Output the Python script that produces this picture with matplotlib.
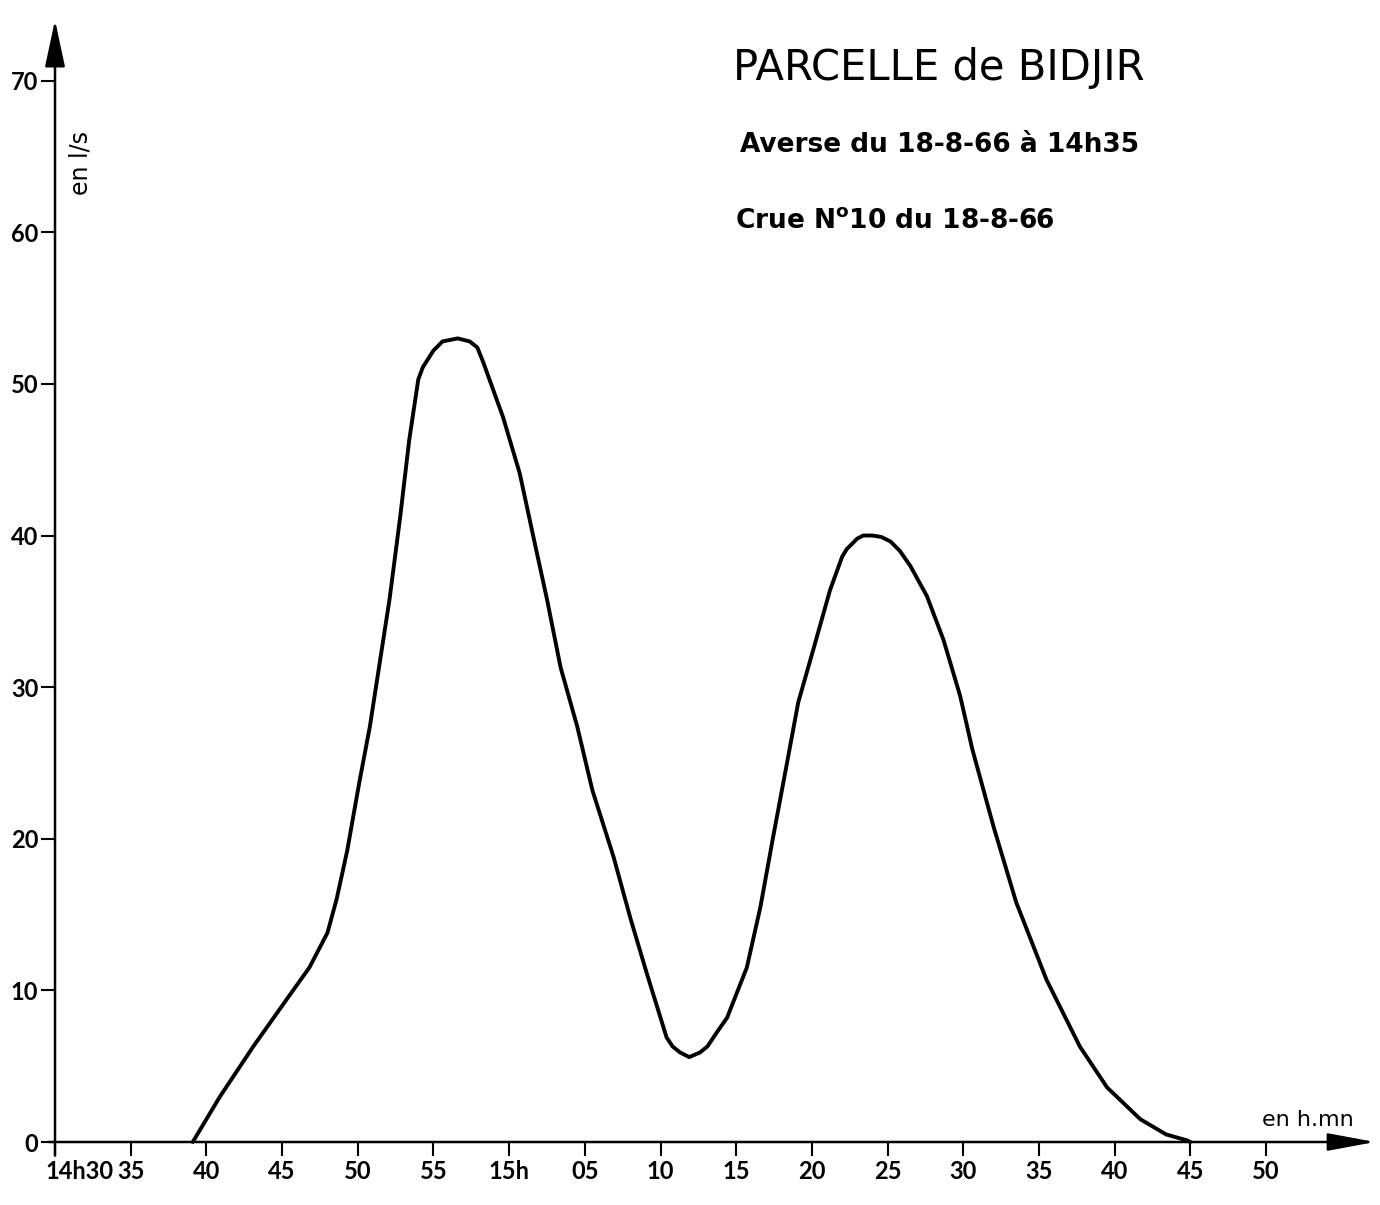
import matplotlib
matplotlib.use("Agg")
import matplotlib.pyplot as plt
from matplotlib.transforms import ScaledTranslation

plt.rcParams['font.family'] = ['Lato', 'DejaVu Sans']
plt.rcParams['mathtext.fontset'] = 'custom'
plt.rcParams['mathtext.rm'] = 'DejaVu Sans'
plt.rcParams['mathtext.bf'] = 'DejaVu Sans:bold'

minutes = [39.1, 40.9, 43.1, 45.3, 46.8, 48.0, 48.6, 49.3, 50.1, 50.8,
           52.1, 52.8, 53.4, 54.0, 54.3, 55.0, 55.6, 56.6, 57.4, 57.9,
           58.3, 59.6, 60.7, 61.8, 62.5, 63.4, 64.5, 65.5, 66.9, 68.0,
           69.1, 70.0, 70.4, 70.8, 71.3, 71.9, 72.6, 73.1, 73.7, 74.4,
           75.7, 76.6, 77.4, 78.3, 79.1, 80.1, 81.2, 82.0, 82.3, 83.0,
           83.4, 84.0, 84.6, 85.2, 85.8, 86.5, 87.6, 88.7, 89.8, 90.6,
           92.0, 93.5, 95.5, 97.7, 99.5, 101.7, 103.4, 104.8, 105.0]
debit = [0.0, 3.0, 6.3, 9.4, 11.5, 13.8, 16.0, 19.2, 23.7, 27.4,
         35.8, 41.2, 46.3, 50.3, 51.1, 52.2, 52.8, 53.0, 52.8, 52.4,
         51.4, 47.8, 44.1, 39.0, 35.8, 31.3, 27.4, 23.2, 18.8, 14.8,
         11.1, 8.2, 6.9, 6.3, 5.9, 5.6, 5.9, 6.3, 7.2, 8.2,
         11.5, 15.5, 19.9, 24.7, 29.0, 32.5, 36.4, 38.6, 39.1, 39.8,
         40.0, 40.0, 39.9, 39.6, 39.0, 38.0, 36.0, 33.1, 29.4, 25.9,
         20.8, 15.8, 10.7, 6.3, 3.6, 1.5, 0.5, 0.1, 0.0]

x_ticks = [30, 35, 40, 45, 50, 55, 60, 65, 70, 75, 80, 85, 90, 95, 100, 105, 110]
x_labels = ["14h30", "35", "40", "45", "50", "55", "15h", "05", "10",
            "15", "20", "25", "30", "35", "40", "45", "50"]
y_ticks = [0, 10, 20, 30, 40, 50, 60, 70]

fig = plt.figure(figsize=(13.8, 12.05), dpi=100)
ax = fig.add_axes([55/1380, 1 - 1142/1205, 1320/1380, 1122/1205])
ax.set_xlim(30, 117.2)
ax.set_ylim(0, 74.0)
for s in ax.spines.values():
    s.set_visible(False)

ax.plot(minutes, debit, color='black', lw=2.8,
        solid_capstyle='round', solid_joinstyle='round', clip_on=False)

# axes avec fleches
ax.annotate('', xy=(117.2, 0), xytext=(29.6, 0), annotation_clip=False,
            arrowprops=dict(arrowstyle='-|>,head_length=1.45,head_width=0.27',
                            lw=1.8, color='black', shrinkA=0, shrinkB=0,
                            mutation_scale=20))
ax.annotate('', xy=(30, 74.0), xytext=(30, -0.9), annotation_clip=False,
            arrowprops=dict(arrowstyle='-|>,head_length=1.45,head_width=0.31',
                            lw=1.8, color='black', shrinkA=0, shrinkB=0,
                            mutation_scale=20))

ax.set_xticks(x_ticks)
ax.set_xticklabels(x_labels, fontsize=17, fontweight='bold')
ax.set_yticks(y_ticks)
ax.set_yticklabels([str(v) for v in y_ticks], fontsize=17, fontweight='bold')
ax.tick_params(axis='x', direction='out', length=10, width=1.5, pad=3)
ax.tick_params(axis='y', direction='out', length=10, width=1.5, pad=2)

first = ax.get_xticklabels()[0]
first.set_horizontalalignment('left')
first.set_transform(first.get_transform() + ScaledTranslation(-0.10, 0, fig.dpi_scale_trans))

fig.text(81/1380, 1 - 163/1205, "en l/s", rotation=90, fontsize=17,
         family='DejaVu Sans', ha='center', va='center')
fig.text(1262/1380, 1 - 1120/1205, "en h.mn", fontsize=16,
         family='DejaVu Sans', ha='left', va='center')

fig.text(733/1380, 1 - 68/1205, "PARCELLE de BIDJIR", fontsize=30,
         family='DejaVu Sans', ha='left', va='center')
fig.text(740/1380, 1 - 145/1205, "Averse du 18-8-66 à 14h35", fontsize=19,
         family='DejaVu Sans', fontweight='bold', ha='left', va='center')
fig.text(735/1380, 1 - 221/1205, r"Crue N$^{\mathbf{o}}$10 du 18-8-66", fontsize=19,
         family='DejaVu Sans', fontweight='bold', ha='left', va='center')

fig.savefig("out.png", dpi=100, facecolor='white')
